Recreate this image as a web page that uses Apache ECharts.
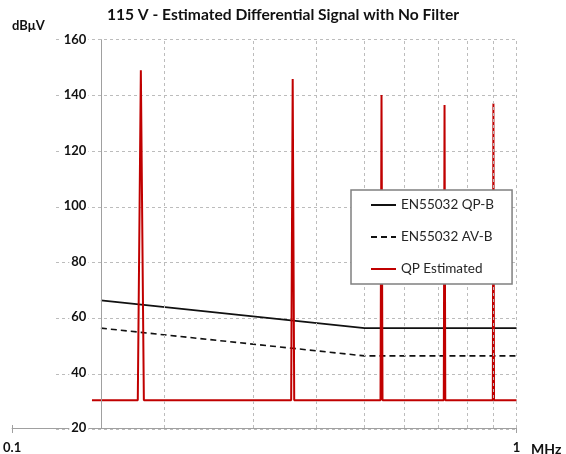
<!DOCTYPE html>
<html>
<head>
<meta charset="utf-8">
<script src="https://cdn.jsdelivr.net/npm/echarts@6/dist/echarts.min.js"></script>
<style>html,body{margin:0;padding:0;background:#fff}#c{width:566px;height:454px}</style>
</head>
<body>
<div id="c"></div>
<script>
// ---- data (MHz, dBµV) ----
const qpLimitFreq = [0.15, 0.5, 1];
const qpLimitLevel = [66, 56, 56];
const avLimitFreq = [0.15, 0.5, 1];
const avLimitLevel = [56, 46, 46];
const qpEstFreq = [0.144, 0.1775, 0.18, 0.1825, 0.3575, 0.36, 0.3625, 0.5375, 0.54, 0.5425, 0.7175, 0.72, 0.7225, 0.8975, 0.9, 0.9025, 1];
const qpEstLevel = [30, 30, 149, 30, 30, 145.8, 30, 30, 140.1, 30, 30, 136.5, 30, 30, 137, 30, 30];
const vGridFreq = [0.2, 0.3, 0.4, 0.5, 0.6, 0.7, 0.8, 0.9, 1];
const yTicks = [20, 40, 60, 80, 100, 120, 140, 160];
const seriesNames = ['EN55032 QP-B', 'EN55032 AV-B', 'QP Estimated'];

const zip = (xs, ys) => xs.map((x, i) => [x, ys[i]]);
const font = 'Lato, "Open Sans", sans-serif';
const gridGray = '#bcbcbc';
const axisGray = '#a0a0a0';

const chart = echarts.init(document.getElementById('c'), null, {renderer: 'canvas'});
chart.setOption({
  animation: false,
  backgroundColor: '#fff',
  title: [
    {text: '115 V - Estimated Differential Signal with No Filter', left: 'center', top: 7, padding: 0,
     textStyle: {fontFamily: font, fontSize: 15.6, fontWeight: 'bold', color: '#111'}},
    {text: 'dBμV', left: 12, top: 19, padding: 0,
     textStyle: {fontFamily: font, fontSize: 13, fontWeight: 'bold', color: '#111'}},
    {text: 'MHz', left: 531, top: 442, padding: 0,
     textStyle: {fontFamily: font, fontSize: 14, fontWeight: 'bold', color: '#111'}}
  ],
  grid: [
    {left: 10, right: 49.5, top: 39.7, bottom: 24.5, containLabel: false},
    {left: 56, right: 49.5, top: 39.7, bottom: 24.5, containLabel: false}
  ],
  xAxis: [
    {type: 'log', logBase: 10, min: 0.1, max: 1, gridIndex: 0, z: 1,
     axisLine: {show: true, lineStyle: {color: axisGray, width: 1}},
     axisTick: {show: true, length: 5, lineStyle: {color: axisGray}},
     splitLine: {show: false},
     axisLabel: {fontFamily: font, fontSize: 13, fontWeight: 'bold', color: '#111', margin: 13,
       formatter: v => (Math.abs(v - 0.1) < 1e-9 ? '0.1' : String(Math.round(v)))}},
    {type: 'log', logBase: 10, min: 0.1, max: 1, gridIndex: 0, position: 'bottom',
     axisLine: {show: false}, axisLabel: {show: false}, splitLine: {show: false},
     axisTick: {show: true, inside: true, length: 3, lineStyle: {color: axisGray}}},
    {type: 'value', min: 0, max: 1, gridIndex: 1, show: false}
  ],
  yAxis: [
    {type: 'value', min: yTicks[0], max: yTicks[yTicks.length - 1], interval: 20, gridIndex: 0,
     offset: -89.3, z: 5,
     axisLine: {show: true, lineStyle: {color: axisGray, width: 1}},
     axisTick: {show: false}, splitLine: {show: false},
     axisLabel: {fontFamily: font, fontSize: 13, fontWeight: 'bold', color: '#111', margin: 13,
       backgroundColor: '#fff', padding: [0, 2, 0, 2]}},
    {type: 'value', min: yTicks[0], max: yTicks[yTicks.length - 1], interval: 20, gridIndex: 1, z: 0,
     axisLine: {show: false}, axisTick: {show: false}, axisLabel: {show: false},
     splitLine: {show: true, lineStyle: {color: gridGray, type: [3, 3], width: 1}}}
  ],
  legend: {
    data: seriesNames,
    orient: 'vertical', left: 351, top: 190,
    padding: [8, 18, 8, 19], itemGap: 18, itemWidth: 25, itemHeight: 14,
    backgroundColor: '#fff', borderColor: '#808080', borderWidth: 1.5, borderRadius: 0,
    itemStyle: {opacity: 0},
    textStyle: {fontFamily: font, fontSize: 13.5, color: '#262626'},
    z: 10
  },
  series: [
    {name: 'grid', type: 'line', xAxisIndex: 0, yAxisIndex: 0, data: [], silent: true, z: 1,
     markLine: {silent: true, symbol: 'none', label: {show: false},
       lineStyle: {color: gridGray, type: [3, 3], width: 1},
       data: vGridFreq.map(f => ({xAxis: f}))}},
    {name: seriesNames[0], type: 'line', xAxisIndex: 0, yAxisIndex: 0, showSymbol: false, symbol: 'none',
     data: zip(qpLimitFreq, qpLimitLevel), z: 3,
     lineStyle: {color: '#111', width: 1.6}, itemStyle: {color: '#111'}},
    {name: seriesNames[1], type: 'line', xAxisIndex: 0, yAxisIndex: 0, showSymbol: false, symbol: 'none',
     data: zip(avLimitFreq, avLimitLevel), z: 3,
     lineStyle: {color: '#111', width: 1.6, type: [6, 4]}, itemStyle: {color: '#111'}},
    {name: seriesNames[2], type: 'line', xAxisIndex: 0, yAxisIndex: 0, showSymbol: false, symbol: 'none',
     data: zip(qpEstFreq, qpEstLevel), z: 4,
     lineStyle: {color: '#C00000', width: 2}, itemStyle: {color: '#C00000'}}
  ]
});
</script>
</body>
</html>
